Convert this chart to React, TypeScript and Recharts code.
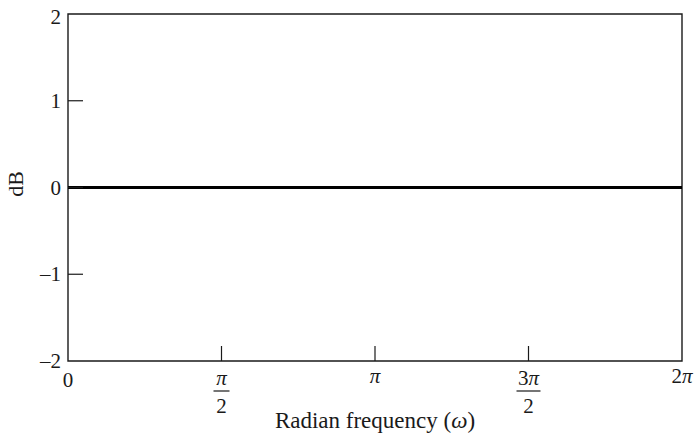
import { CartesianGrid, Line, LineChart, ReferenceArea, XAxis, YAxis } from 'recharts';

const PI = Math.PI;

// radian frequency samples and the flat 0 dB response
const omega = [0, PI / 2, PI, (3 * PI) / 2, 2 * PI];
const gainDb = [0, 0, 0, 0, 0];

const xTicks = [0, PI / 2, PI, (3 * PI) / 2, 2 * PI];
const xTickLabels = [
  { num: '0' },
  { num: 'π', den: '2' },
  { num: 'π' },
  { num: '3π', den: '2' },
  { num: '2π' },
];
const yTicks = [-2, -1, 0, 1, 2];

const data = omega.map((w, i) => ({ w, db: gainDb[i] }));

const serif = '"Liberation Serif", "DejaVu Serif", serif';
const ink = '#1a1a1a';
const fs = 21;

function renderPiText(s: string) {
  // digits upright, pi italic
  return s.split('').map((ch, i) =>
    ch === 'π' ? (
      <tspan key={i} fontStyle="italic">
        {ch}
      </tspan>
    ) : (
      <tspan key={i}>{ch}</tspan>
    ),
  );
}

function XTick(props: any) {
  const { x, y, index } = props;
  const lab = xTickLabels[index] ?? { num: '' };
  const inner = index > 0 && index < xTicks.length - 1;
  return (
    <g>
      {inner && <line x1={x} x2={x} y1={y} y2={y - 15} stroke={ink} strokeWidth={1.2} />}
      {lab.den ? (
        <>
          <text x={x} y={y + 24} textAnchor="middle" fontFamily={serif} fontSize={fs} fill={ink}>
            {renderPiText(lab.num)}
          </text>
          <line
            x1={x - (lab.num.length > 1 ? 12 : 8)}
            x2={x + (lab.num.length > 1 ? 12 : 8)}
            y1={y + 30}
            y2={y + 30}
            stroke={ink}
            strokeWidth={1.2}
          />
          <text x={x} y={y + 52} textAnchor="middle" fontFamily={serif} fontSize={fs} fill={ink}>
            {lab.den}
          </text>
        </>
      ) : (
        <text x={x} y={y + (index === 0 ? 26 : 22)} textAnchor="middle" fontFamily={serif} fontSize={fs} fill={ink}>
          {renderPiText(lab.num)}
        </text>
      )}
    </g>
  );
}

function YTick(props: any) {
  const { x, y, payload } = props;
  const v = payload.value as number;
  const label = v < 0 ? `\u2013${Math.abs(v)}` : String(v);
  const inner = v > -2 && v < 2;
  return (
    <g>
      {inner && <line x1={x} x2={x + 15} y1={y} y2={y} stroke={ink} strokeWidth={1.2} />}
      <text x={x - 7} y={y + (v === 2 ? 10 : 7)} textAnchor="end" fontFamily={serif} fontSize={fs} fill={ink}>
        {label}
      </text>
    </g>
  );
}

export default function App() {
  return (
    <div style={{ position: 'absolute', left: 0, top: 0, width: 698, height: 440, background: '#fff' }}>
      <LineChart width={698} height={440} data={data} margin={{ top: 14, right: 16, left: 0, bottom: 0 }}>
        <CartesianGrid stroke="none" />
        <XAxis
          dataKey="w"
          type="number"
          domain={[0, 2 * PI]}
          ticks={xTicks}
          interval={0}
          height={79}
          axisLine={false}
          tickLine={false}
          tickSize={0}
          tickMargin={0}
          tick={<XTick />}
        />
        <YAxis
          type="number"
          domain={[-2, 2]}
          ticks={yTicks}
          interval={0}
          width={68}
          axisLine={false}
          tickLine={false}
          tickSize={0}
          tickMargin={0}
          tick={<YTick />}
        />
        <ReferenceArea x1={0} x2={2 * PI} y1={-2} y2={2} fill="none" stroke={ink} strokeWidth={1.4} ifOverflow="visible" />
        <Line dataKey="db" stroke="#000" strokeWidth={3} dot={false} isAnimationActive={false} />
        <text x={375} y={428} textAnchor="middle" fontFamily={serif} fontSize={23} fill={ink}>
          Radian frequency (<tspan fontStyle="italic">ω</tspan>)
        </text>
        <text
          x={23}
          y={184}
          transform="rotate(-90 23 184)"
          textAnchor="middle"
          fontFamily={serif}
          fontSize={22}
          fill={ink}
        >
          dB
        </text>
      </LineChart>
    </div>
  );
}
